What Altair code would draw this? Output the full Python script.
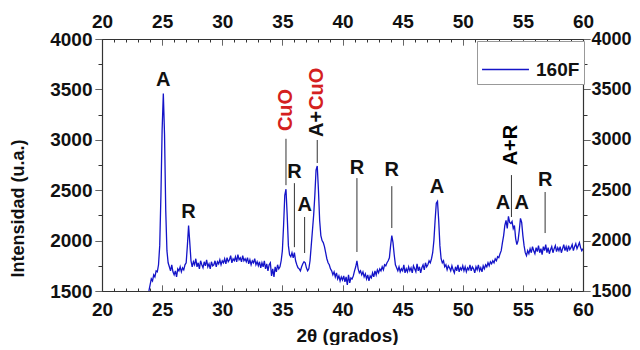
import altair as alt
import numpy as np
import pandas as pd

# ---- data ----
theta_start = 23.9
theta_step = 0.1
intensity = [
    1500,
    1560, 1620, 1600, 1660, 1640, 1700, 1690, 1760, 1950, 2450,
    3100, 3460, 3050, 2300, 1900, 1780, 1740, 1700, 1760, 1690,
    1660, 1700, 1640, 1720, 1700, 1740, 1690, 1730, 1710, 1760,
    1780, 1950, 2150, 1980, 1800, 1740, 1790, 1760, 1820, 1740,
    1780, 1720, 1800, 1760, 1730, 1790, 1750, 1810, 1740, 1770,
    1720, 1790, 1750, 1760, 1800, 1740, 1790, 1770, 1810, 1760,
    1800, 1780, 1820, 1770, 1830, 1790, 1810, 1850, 1780, 1820,
    1800, 1840, 1790, 1860, 1810, 1830, 1790, 1850, 1800, 1820,
    1790, 1830, 1770, 1810, 1760, 1800, 1780, 1820, 1760, 1790,
    1750, 1790, 1730, 1780, 1740, 1800, 1720, 1770, 1700, 1760,
    1780, 1650, 1720, 1640, 1740, 1690, 1760, 1720, 1740, 1800,
    1900, 2150, 2450, 2510, 2250, 1950, 1860, 1840, 1880, 1830,
    1880, 1800, 1760, 1730, 1720, 1700, 1740, 1770, 1790, 1780,
    1730, 1700, 1720, 1800, 1950, 2100, 2250, 2450, 2700, 2740,
    2500, 2200, 2050, 2000, 1980, 1940, 1880, 1820, 1780, 1760,
    1720, 1700, 1660, 1690, 1640, 1680, 1620, 1650, 1600, 1640,
    1610, 1650, 1590, 1640, 1560, 1660, 1580, 1630, 1620, 1650,
    1700, 1740, 1800, 1720, 1680, 1700, 1660, 1690, 1640, 1670,
    1620, 1660, 1600, 1650, 1630, 1680, 1640, 1700, 1660, 1710,
    1680, 1720, 1700, 1740, 1710, 1760, 1750, 1780, 1800, 1830,
    1950, 2050, 1980, 1860, 1760, 1730, 1700, 1740, 1690, 1720,
    1700, 1760, 1680, 1720, 1690, 1740, 1700, 1730, 1680, 1750,
    1720, 1690, 1770, 1700, 1740, 1680, 1730, 1760, 1710, 1780,
    1740, 1760, 1800, 1780, 1820, 1880, 2000, 2200, 2370, 2390,
    2200, 1950, 1820, 1780, 1800, 1740, 1760, 1710, 1750, 1730,
    1700, 1750, 1710, 1680, 1740, 1700, 1760, 1690, 1730, 1710,
    1750, 1700, 1740, 1690, 1730, 1710, 1760, 1700, 1740, 1720,
    1680, 1740, 1710, 1760, 1700, 1730, 1690, 1750, 1720, 1760,
    1740, 1780, 1750, 1790, 1770, 1800, 1780, 1820, 1800, 1840,
    1830, 1870, 1900, 1980, 2050, 2150, 2200, 2120, 2240, 2180,
    2170, 2190, 2120, 2150, 2020, 1960, 2000, 2100, 2220, 2180,
    2050, 1950, 1880, 1850, 1900, 1870, 1920, 1880, 1940, 1900,
    1870, 1930, 1890, 1950, 1880, 1920, 1860, 1940, 1900, 1960,
    1880, 1930, 1870, 1910, 1940, 1880, 1920, 1950, 1890, 1930,
    1900, 1940, 1880, 1920, 1960, 1900, 1940, 1890, 1950, 1910,
    1930, 1960, 1900, 1940, 1970, 1920, 1950, 1980, 1930, 1900,
    1920,
]
series_name = "160F"

# peak labels (horizontal)
lbl_text = ["A", "R", "R", "A", "R", "R", "A", "A", "A", "R"]
lbl_x = [25.1, 27.2, 36.0, 36.85, 41.2, 44.1, 47.85, 53.35, 54.9, 56.85]
lbl_y = [3593, 2284, 2680, 2353, 2720, 2700, 2532, 2373, 2373, 2601]

# rotated labels
rot_text = ["CuO", "A+R"]
rot_color = ["#d42020", "#000000"]
rot_x = [35.3, 54.05]
rot_y = [3296, 2948]
mix_x = [37.9]
mix_y = [3028]
mix_first = ["A+"]
mix_second = ["CuO"]

# marker lines
rule_x = [35.3, 36.0, 36.85, 37.9, 41.2, 44.1, 54.05, 56.85]
rule_y1 = [2550, 1935, 1877, 2770, 1887, 2125, 2234, 2075]
rule_y2 = [3010, 2570, 2234, 2998, 2620, 2540, 2650, 2482]

x_ticks = list(range(20, 61))
y_ticks = list(range(1500, 4001, 250))
x_domain = [20, 60]
y_domain = [1500, 4000]

# ---- tables ----
theta = np.round(theta_start + theta_step * np.arange(len(intensity)), 2)
df = pd.DataFrame({"theta": theta, "I": intensity, "serie": series_name})
lbl_df = pd.DataFrame({"x": lbl_x, "y": lbl_y, "t": lbl_text})
rot_df = pd.DataFrame({"x": rot_x, "y": rot_y, "t": rot_text, "c": rot_color})
mix_df = pd.DataFrame({"x": mix_x, "y": mix_y, "a": mix_first, "b": mix_second})
rule_df = pd.DataFrame({"x": rule_x, "y": rule_y1, "y2": rule_y2})

FONT = "Liberation Sans"
xs = alt.Scale(domain=x_domain, nice=False, zero=False)
ys = alt.Scale(domain=y_domain, nice=False, zero=False)

x_lab = "datum.value % 5 === 0 ? datum.label : ''"
y_lab = "datum.value % 500 === 0 ? datum.label : ''"
x_dash = {"condition": {"test": "datum.value % 5 !== 0", "value": [3, 30]}, "value": [1, 0]}
y_dash = {"condition": {"test": "datum.value % 500 !== 0", "value": [4, 30]}, "value": [1, 0]}

common = dict(labelFont=FONT, labelFontWeight="bold", labelColor="#111",
              domainColor="#333", domainWidth=1.2, tickColor="#333", tickWidth=1,
              grid=False, labelFlush=False)

x_bottom = alt.Axis(orient="bottom", values=x_ticks, labelExpr=x_lab, labelPadding=15,
                    labelFontSize=19, tickSize={"expr": "-6"}, tickDash=x_dash,
                    title="2θ (grados)", titleFont=FONT, titleFontSize=19, titleFontWeight="bold",
                    titleColor="#111", titleX=245, titleY=44, titleBaseline="middle",
                    titleAlign="center", **common)
y_left = alt.Axis(orient="left", values=y_ticks, labelExpr=y_lab, format="d", labelPadding=3,
                  labelFontSize=19, tickSize=7, tickDash=y_dash,
                  title="Intensidad (u.a.)", titleFont=FONT, titleFontSize=18, titleFontWeight="bold",
                  titleColor="#111", titleX=-84, titleY=169, titleAngle=270,
                  titleBaseline="middle", titleAlign="center", **common)
x_top = alt.Axis(orient="top", values=x_ticks, labelExpr=x_lab, labelPadding=14, title=None,
                 labelFontSize=19, tickSize={"expr": "-6"}, tickDash=x_dash, **common)
y_right = alt.Axis(orient="right", values=y_ticks, labelExpr=y_lab, format="d", labelPadding=1,
                   labelFontSize=18, tickSize=7, tickDash=y_dash, title=None, **common)

line = alt.Chart(df).mark_line(strokeWidth=1.3, clip=True).encode(
    x=alt.X("theta:Q", scale=xs, axis=x_bottom),
    y=alt.Y("I:Q", scale=ys, axis=y_left),
    color=alt.Color("serie:N", scale=alt.Scale(domain=[series_name], range=["#1414c8"]),
                    legend=alt.Legend(title=None, orient="none", legendX=375, legendY=2,
                                      symbolType="stroke", symbolSize=2200,
                                      symbolStrokeWidth=1.6, symbolStrokeColor="#4a4a90",
                                      labelFont=FONT, labelFontSize=19, labelFontWeight="bold",
                                      labelColor="#111", labelOffset=6,
                                      padding=4, strokeColor="#999", fillColor="white")),
)

rules = alt.Chart(rule_df).mark_rule(color="#333", strokeWidth=1).encode(
    x=alt.X("x:Q", scale=xs, axis=x_top),
    y=alt.Y("y:Q", scale=ys, axis=y_right),
    y2="y2:Q",
)

labels = alt.Chart(lbl_df).mark_text(font=FONT, fontSize=20, fontWeight="bold", color="#111",
                                     baseline="middle", align="center").encode(
    x=alt.X("x:Q", scale=xs, axis=None),
    y=alt.Y("y:Q", scale=ys, axis=None),
    text="t:N",
)

rot = alt.Chart(rot_df).mark_text(font=FONT, fontSize=20, fontWeight="bold", angle=270,
                                  baseline="middle", align="center").encode(
    x=alt.X("x:Q", scale=xs, axis=None),
    y=alt.Y("y:Q", scale=ys, axis=None),
    text="t:N",
    color=alt.Color("c:N", scale=None, legend=None),
)

mix_a = alt.Chart(mix_df).mark_text(font=FONT, fontSize=20, fontWeight="bold", angle=270,
                                    baseline="middle", align="left", color="#111").encode(
    x=alt.X("x:Q", scale=xs, axis=None),
    y=alt.Y("y:Q", scale=ys, axis=None),
    text="a:N",
)
mix_b = alt.Chart(mix_df).mark_text(font=FONT, fontSize=20, fontWeight="bold", angle=270,
                                    baseline="middle", align="left", color="#d42020",
                                    dx=27).encode(
    x=alt.X("x:Q", scale=xs, axis=None),
    y=alt.Y("y:Q", scale=ys, axis=None),
    text="b:N",
)

chart = alt.layer(line, rules, labels, rot, mix_a, mix_b).resolve_axis(
    x="independent", y="independent"
).properties(
    width=481, height=252,
    padding={"left": 94, "top": 31, "right": 49, "bottom": 54},
    autosize=alt.AutoSizeParams(type="none"),
).configure_view(stroke=None).configure(background="white")

chart.save("out.html", embed_options={"renderer": "svg", "actions": False})
